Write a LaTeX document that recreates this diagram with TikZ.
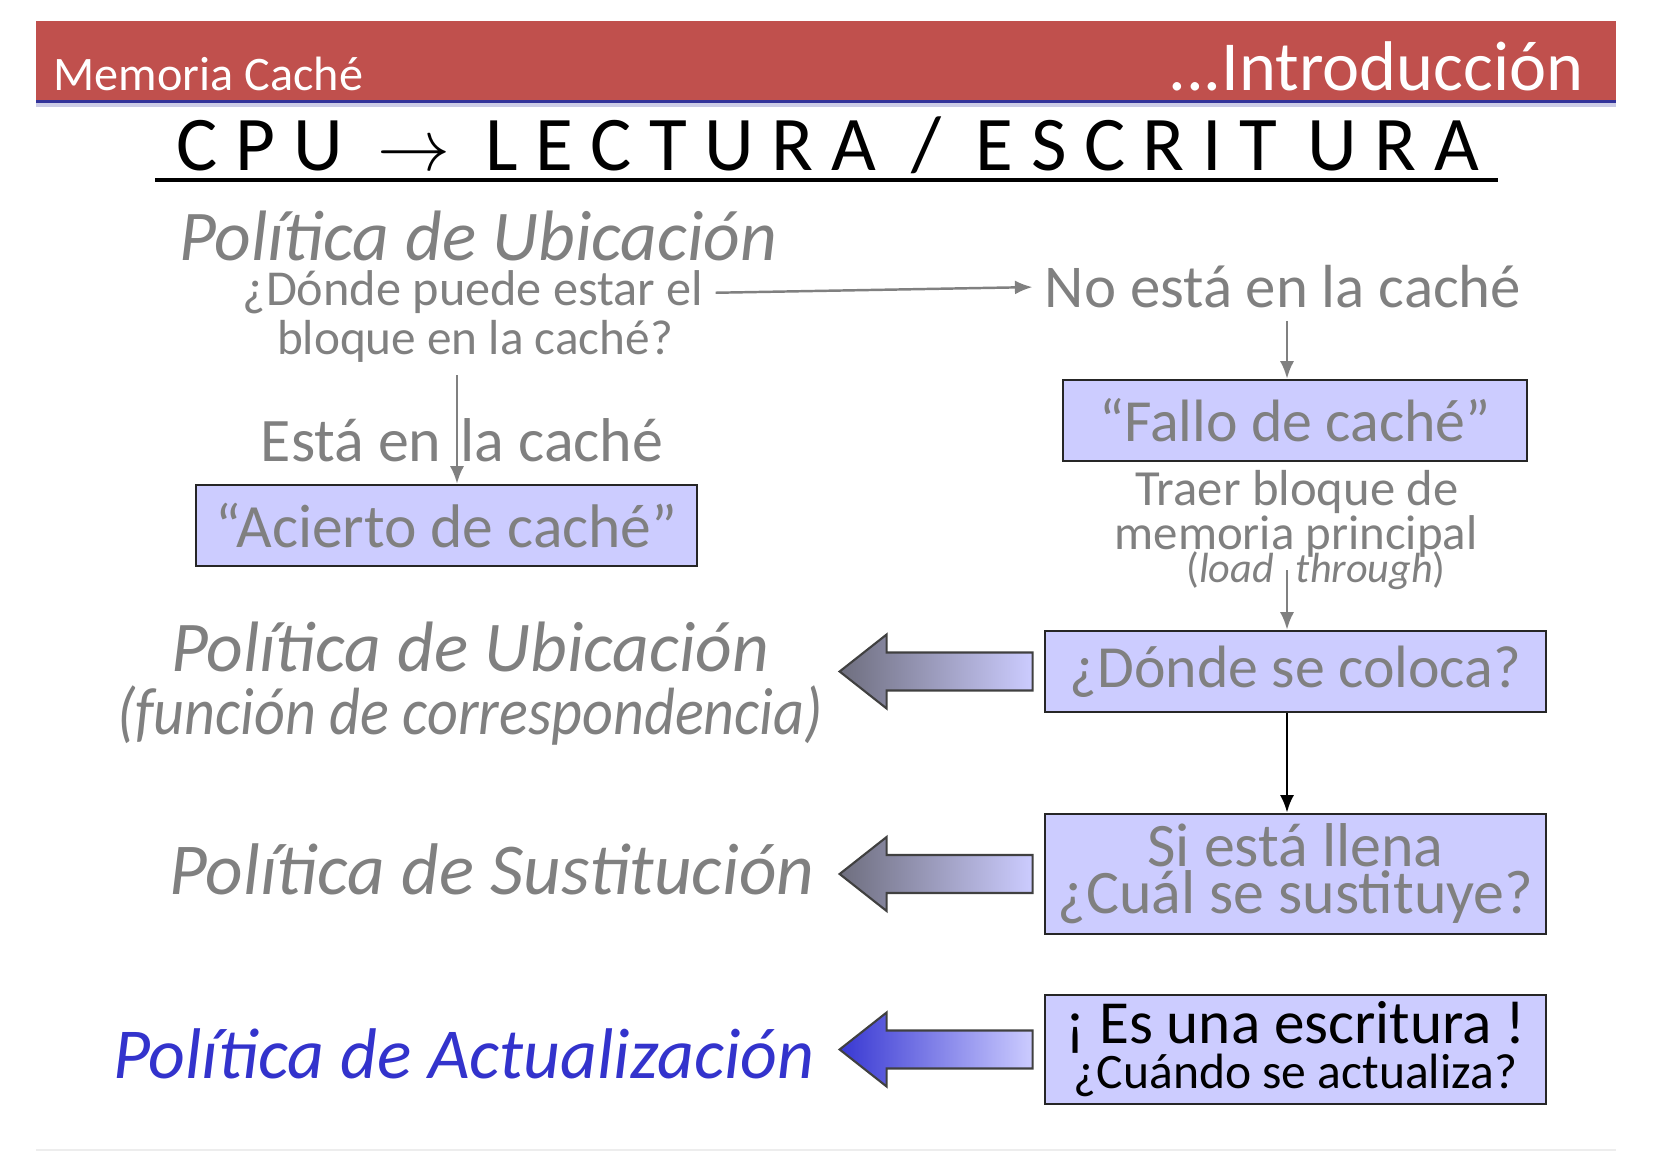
\documentclass[tikz,border=0pt]{standalone}
\usepackage{fontspec}
\setmainfont{Carlito}
\usepackage{tikz}
\usetikzlibrary{
  calc,
  positioning,
  arrows.meta
}
\definecolor{headred}{HTML}{C0504D}
\definecolor{headline}{HTML}{33339A}
\definecolor{textgray}{HTML}{808080}
\definecolor{boxfill}{HTML}{CCCCFF}
\definecolor{politblue}{HTML}{3333CC}
\definecolor{arrgray}{HTML}{6E6E7E}
\definecolor{arrblue}{HTML}{3838D2}

\begin{document}
\begin{tikzpicture}[x=0.01cm,y=-0.01cm,>={Latex[length=5pt,width=4pt]}]
  \tikzset{
    box/.style={draw=black!85,line width=0.7pt,fill=boxfill,text=textgray,
      inner sep=0pt,align=center},
    graytxt/.style={text=textgray,anchor=base,inner sep=0.3333em},
    polit/.style={text=textgray,anchor=base,inner sep=0pt,font=\itshape},
    grayarr/.style={->,draw=textgray,line width=0.7pt},
  }
  \useasboundingbox (0,0) rectangle (1654,1152);

  % cabecera
  \fill[headred] (36,21) rectangle (1616,101);
  \draw[headline,line width=1.3pt] (36,102) -- (1616,102);
  \draw[headline!25,line width=1pt] (36,105) -- (1616,105);
  \node[anchor=base west,text=white,inner sep=0pt,font=\fontsize{13.7}{16}\selectfont]
    (memtxt) at (53,91) {Memoria Caché};
  \node[anchor=base east,text=white,inner sep=0pt,font=\fontsize{20}{24}\selectfont]
    (introtxt) at (1584,91) {...Introducción};

  \node[anchor=base,inner sep=0pt,font=\fontsize{22}{24}\selectfont]
    (title) at (828,171) {C P U\ \ $\rightarrow$\ \ L E C T U R A\ \ /\ \ E S C R I T\,\ U R A};
  \draw[line width=1.2pt] (155,180) -- (1498,180);

  % lectura: acierto o fallo
  \node[polit,font=\fontsize{20.3}{24}\selectfont\itshape] (ubic) at (478,261) {Política de Ubicación};
  \node[graytxt,font=\fontsize{14.3}{16}\selectfont] (q1) at (473,306) {¿Dónde puede estar el};
  \node[graytxt,font=\fontsize{14}{16}\selectfont] (q2) at (475,355) {bloque en la caché?};
  \node[graytxt,font=\fontsize{17.3}{20}\selectfont] (nocache) at (1283,308) {No está en la caché};
  \node[graytxt,font=\fontsize{17.6}{20}\selectfont] (esta) at (462,462) {Está en\hspace{5.4pt}la caché};

  \node[box,minimum width=5.01cm,minimum height=0.81cm,font=\fontsize{17.5}{20}\selectfont]
    (acierto) at (446.5,525.5) {“Acierto de caché”};
  \node[box,minimum width=4.64cm,minimum height=0.81cm,font=\fontsize{17}{20}\selectfont]
    (fallo) at (1295,420.5) {“Fallo de caché”};

  \node[graytxt,font=\fontsize{14.4}{18}\selectfont] (traer) at (1297,506) {Traer bloque de};
  \node[graytxt,font=\fontsize{13.9}{18}\selectfont] (mem) at (1296,550) {memoria principal};
  \node[graytxt,font=\fontsize{12}{13}\selectfont] (load) at (1316,583)
    {(\textit{load}\hspace{6.3pt}\textit{through})};

  % las tres preguntas
  \node[box,minimum width=5.01cm,minimum height=0.81cm,font=\fontsize{17}{20}\selectfont]
    (place) at (1295.5,671.5) {¿Dónde se coloca?};
  \node[box,minimum width=5.01cm,minimum height=1.20cm,font=\fontsize{17.6}{13.4}\selectfont]
    (subst) at (1295.5,874) {Si está llena\\¿Cuál se sustituye?};
  \node[box,minimum width=5.01cm,minimum height=1.09cm,text=black,font=\fontsize{17.4}{12.8}\selectfont]
    (upd) at (1295.5,1049.5) {¡ Es una escritura !\\{\fontsize{14.1}{12.8}\selectfont ¿Cuándo se actualiza?}};

  \node[polit,font=\fontsize{20.3}{24}\selectfont\itshape] (pubic) at (470,672) {Política de Ubicación};
  \node[polit,font=\fontsize{19}{24}\selectfont\itshape] (pfunc) at (470,735)
    {\scalebox{0.9}[1]{(función de correspondencia)}};
  \node[polit,anchor=base east,font=\fontsize{20.8}{24}\selectfont\itshape]
    (psust) at (815,894) {Política de Sustitución};
  \node[polit,anchor=base east,text=politblue,font=\fontsize{20.4}{24}\selectfont\itshape]
    (pact) at (815,1078) {Política de Actualización};

  % flechas
  \coordinate (hitx) at (457,0);
  \coordinate (colx) at (1287,0);
  \draw[grayarr] (q1.east) -- (nocache.west);
  \draw[grayarr] (q2.south -| hitx) -- (acierto.north -| hitx);
  \draw[grayarr] (nocache.south -| colx) -- (fallo.north -| colx);
  \draw[grayarr] (mem.south -| colx) -- (place.north -| colx);
  \draw[->,line width=0.8pt] (place.south -| colx) -- (subst.north -| colx);

  \foreach \b/\tip in {place/arrgray, subst/arrgray, upd/arrblue} {
    \path[draw=black!75,line width=0.6pt,left color=\tip,right color=boxfill]
      ($(\b.west)+(-11,-19)$) -- ($(\b.west)+(-157,-19)$) -- ($(\b.west)+(-157,-37)$)
      -- ($(\b.west)+(-204,0)$) -- ($(\b.west)+(-157,37)$) -- ($(\b.west)+(-157,19)$)
      -- ($(\b.west)+(-11,19)$) -- cycle;
  }

  \draw[black!7] (36,1150) -- (1616,1150);
\end{tikzpicture}
\end{document}
